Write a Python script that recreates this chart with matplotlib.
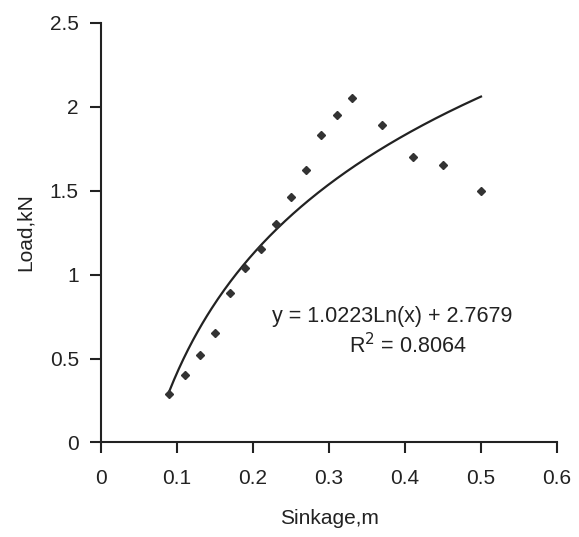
import numpy as np
import matplotlib
matplotlib.use('Agg')
import matplotlib.pyplot as plt

plt.rcParams['font.family'] = ['Liberation Sans', 'DejaVu Sans']

sinkage = [0.09, 0.11, 0.13, 0.15, 0.17, 0.19, 0.21, 0.23, 0.25, 0.27,
           0.29, 0.31, 0.33, 0.37, 0.41, 0.45, 0.50]
load = [0.29, 0.40, 0.52, 0.65, 0.89, 1.04, 1.15, 1.30, 1.46, 1.62,
        1.83, 1.95, 2.05, 1.89, 1.70, 1.65, 1.50]

# log trendline as printed on the chart
coef_a = 1.0223
coef_b = 2.7679
r_squared = 0.8064

x_ticks = [0, 0.1, 0.2, 0.3, 0.4, 0.5, 0.6]
y_ticks = [0, 0.5, 1, 1.5, 2, 2.5]
x_tick_labels = ['0', '0.1', '0.2', '0.3', '0.4', '0.5', '0.6']
y_tick_labels = ['0', '0.5', '1', '1.5', '2', '2.5']

fig = plt.figure(figsize=(5.79, 5.37), dpi=100)
ax = fig.add_axes([0.1744, 0.176, 0.7876, 0.782])

ink = '#222222'

# trendline across the range of the data
xs = np.linspace(min(sinkage), max(sinkage), 200)
ax.plot(xs, coef_a * np.log(xs) + coef_b, color=ink, linewidth=1.6)

ax.plot(sinkage, load, linestyle='none', marker='D', markersize=3.6,
        color='#333333')

ax.set_xlim(0, 0.6)
ax.set_ylim(0, 2.5)
ax.set_xticks(x_ticks)
ax.set_xticklabels(x_tick_labels)
ax.set_yticks(y_ticks)
ax.set_yticklabels(y_tick_labels)

for side in ['top', 'right']:
    ax.spines[side].set_visible(False)
for side in ['left', 'bottom']:
    ax.spines[side].set_linewidth(1.5)
    ax.spines[side].set_color(ink)

ax.tick_params(direction='out', length=8, width=1.5, colors=ink,
               labelsize=15, pad=8)
ax.tick_params(axis='x', pad=11)

ax.set_xlabel('Sinkage,m', fontsize=15, color=ink, labelpad=15)
ax.set_ylabel('Load,kN', fontsize=15, color=ink, labelpad=11)

ax.text(0.383, 0.717, 'y = {:.4f}Ln(x) + {:.4f}'.format(coef_a, coef_b),
        fontsize=15.5, color=ink, ha='center', va='baseline')
ax.text(0.404, 0.533, 'R$^2$ = {:.4f}'.format(r_squared),
        fontsize=15.5, color=ink, ha='center', va='baseline')

fig.savefig('out.png', dpi=100)
